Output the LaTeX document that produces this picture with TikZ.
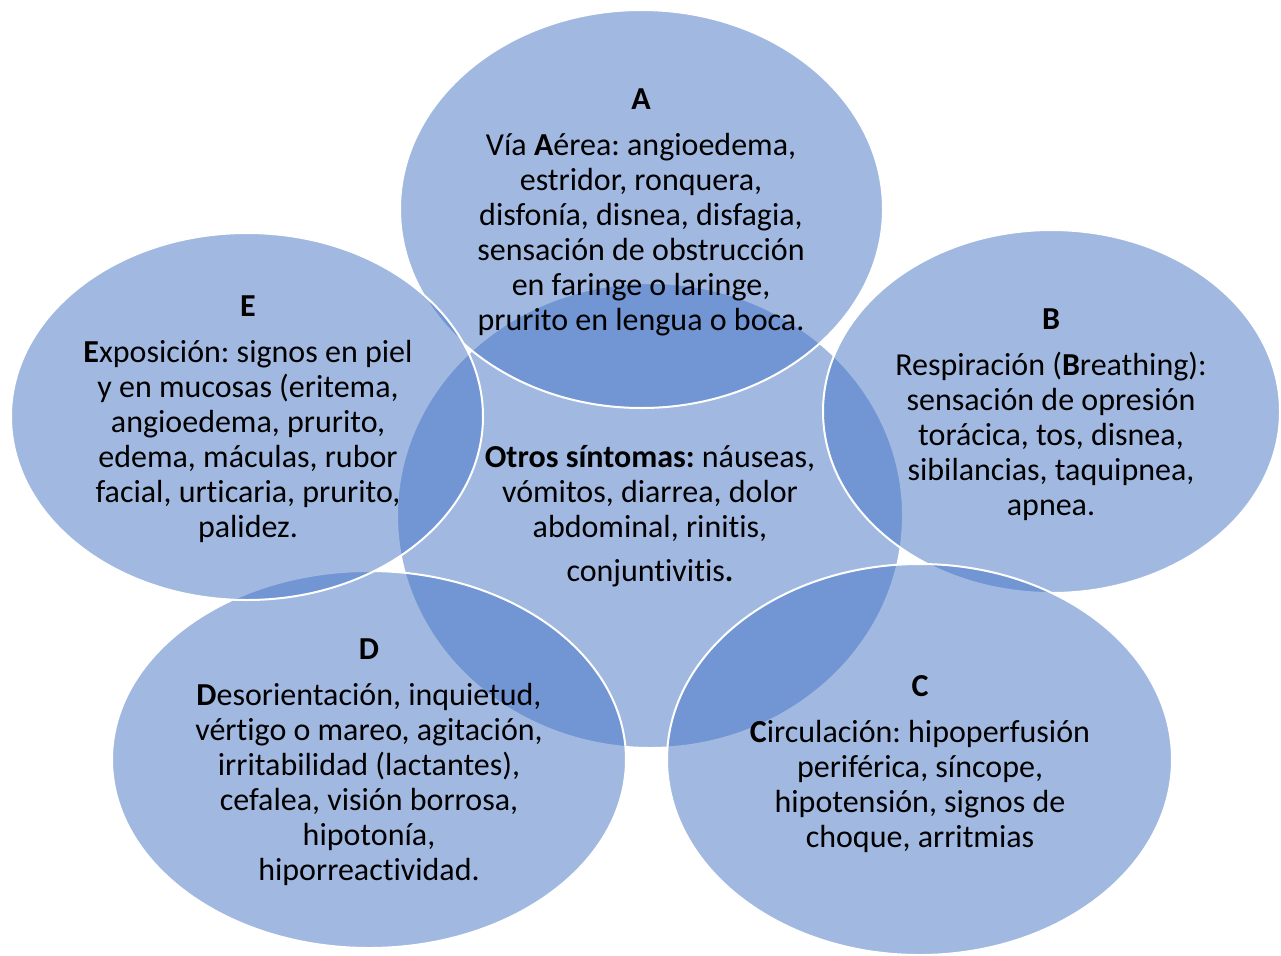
\documentclass[tikz,border=0pt]{standalone}
\usepackage{fontspec}
\setmainfont{Carlito}[Ligatures={NoCommon}]
\frenchspacing
\usetikzlibrary{shapes.geometric}
\definecolor{venn}{RGB}{68,114,196}
\tikzset{
  blob/.style={ellipse, fill=venn, fill opacity=0.5, draw=white, draw opacity=1,
    line width=2pt, inner sep=0pt, outer sep=0pt},
  txt/.style={align=center, font=\fontsize{32}{35}\selectfont, inner sep=0pt, text=black}
}
\begin{document}
\begin{tikzpicture}[x=1pt,y=-1pt]
\useasboundingbox (0,0) rectangle (1281,955);
% overlapping ellipses, drawn from the back to the front
\node[blob, minimum width=506, minimum height=465] (core) at (650,515.5) {};
\node[blob, minimum width=483, minimum height=398] (A) at (641.5,209) {};
\node[blob, minimum width=457, minimum height=363] (B) at (1051.5,411.5) {};
\node[blob, minimum width=505, minimum height=391] (C) at (919.5,759.5) {};
\node[blob, minimum width=514, minimum height=377] (D) at (369,759.5) {};
\node[blob, minimum width=472, minimum height=367] (E) at (247,416.5) {};
% texts
\node[txt] (tA) at (641,212) {\textbf{A}\\[11pt]
  Vía \textbf{A}érea: angioedema,\\ estridor, ronquera,\\ disfonía, disnea, disfagia,\\
  sensación de obstrucción\\ en faringe o laringe,\\ prurito en lengua o boca.};
\node[txt] (tB) at (1051,415) {\textbf{B}\\[11pt]
  Respiración (\textbf{B}reathing):\\ sensación de opresión\\ torácica, tos, disnea,\\
  sibilancias, taquipnea,\\ apnea.};
\node[txt] (tC) at (920,764) {\textbf{C}\\[11pt]
  \textbf{C}irculación: hipoperfusión\\ periférica, síncope,\\ hipotensión, signos de\\
  choque, arritmias};
\node[txt] (tD) at (369,762) {\textbf{D}\\[11pt]
  \textbf{D}esorientación, inquietud,\\ vértigo o mareo, agitación,\\ irritabilidad (lactantes),\\
  cefalea, visión borrosa,\\ hipotonía,\\ hiporreactividad.};
\node[txt] (tE) at (248,419) {\textbf{E}\\[11pt]
  \textbf{E}xposición: signos en piel\\ y en mucosas (eritema,\\ angioedema, prurito,\\
  edema, máculas, rubor\\ facial, urticaria, prurito,\\ palidez.};
\node[txt] (tcore) at (650,516) {\textbf{Otros síntomas:} náuseas,\\ vómitos, diarrea, dolor\\
  abdominal, rinitis,\\[9pt] conjuntivitis\textbf{.}};
\end{tikzpicture}
\end{document}
